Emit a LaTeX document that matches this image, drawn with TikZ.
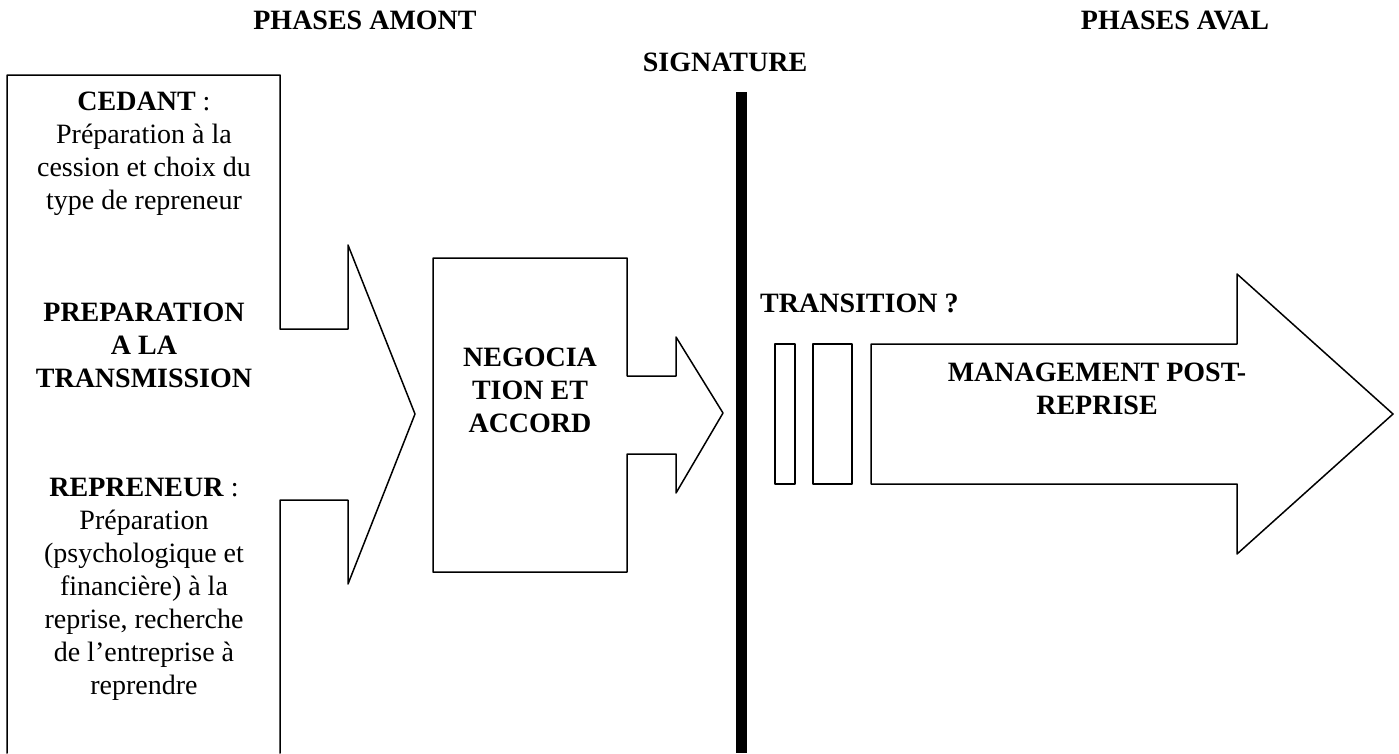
\documentclass[tikz,border=0pt]{standalone}
\usepackage{fontspec}
\setmainfont{Liberation Serif}
\usepackage{tikz}
\usetikzlibrary{arrows}

\begin{document}
\begin{tikzpicture}[line cap=round,line join=round,x=1pt,y=-1pt,
  trait/.style={line width=1.5pt},
  texte/.style={inner sep=0pt,align=center,font=\fontsize{28}{33}\selectfont},
  titre/.style={texte,font=\fontsize{28}{33}\selectfont\bfseries}]
\useasboundingbox (0,0) rectangle (1399,753);
% phases amont
\draw [trait] (7,753)--(7,75)--(280,75)--(280,329)--(348,329)--(348,245)--(415,414)
  --(348,584)--(348,500)--(280,500)--(280,753);
\draw [trait] (433,258)--(627,258)--(627,376)--(676,376)--(676,337)--(723,413)
  --(676,493)--(676,454)--(627,454)--(627,572)--(433,572)--cycle;
% signature
\draw [line width=11pt,line cap=butt] (741,92)--(741,753);
% phases aval
\draw [trait] (775,344) rectangle (795,484);
\draw [trait] (813,344) rectangle (852,484);
\draw [trait] (871,344)--(1237,344)--(1237,274)--(1393,414)--(1237,554)--(1237,484)
  --(871,484)--cycle;
\node [titre,anchor=north] (amont) at (365,11) {PHASES AMONT};
\node [titre,anchor=north] (aval) at (1175,11) {PHASES AVAL};
\node [titre,anchor=north] (signature) at (725,53) {SIGNATURE};
\node [texte,anchor=north] (cedant) at (144,92) {\textbf{CEDANT} :\\Préparation à la\\cession et choix du\\type de repreneur};
\node [titre,anchor=north] (preparation) at (144,303) {PREPARATION\\A LA\\TRANSMISSION};
\node [texte,anchor=north] (repreneur) at (144,478) {\textbf{REPRENEUR} :\\Préparation\\(psychologique et\\financière) à la\\reprise, recherche\\de l’entreprise à\\reprendre};
\node [titre,anchor=north] (negociation) at (530,348) {NEGOCIA\\TION ET\\ACCORD};
\node [titre,anchor=north west] (transition) at (760,294) {TRANSITION ?};
\node [titre,anchor=north] (management) at (1097,363) {MANAGEMENT POST-\\REPRISE};
\end{tikzpicture}
\end{document}
